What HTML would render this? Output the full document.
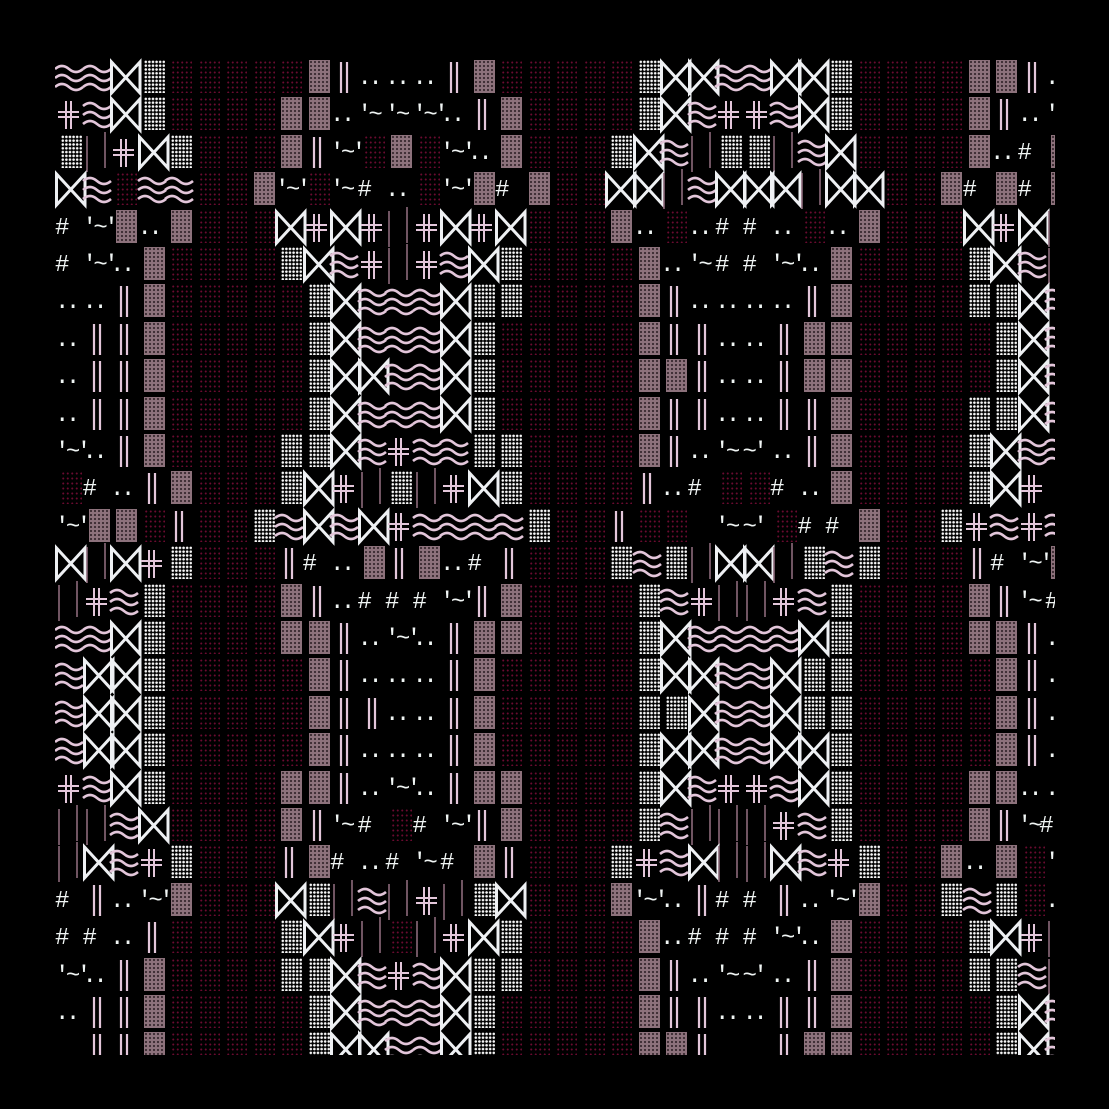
<!DOCTYPE html>
<html><head><meta charset="utf-8">
<style>
html,body{margin:0;padding:0;background:#000;width:1109px;height:1109px;overflow:hidden}
#clip{position:absolute;left:55px;top:55px;width:1000px;height:1000px;overflow:hidden}
.c{position:absolute;width:27.5px;height:37.4px}
.blk{position:absolute;left:6px;top:1px;width:21px;height:33px}
.rr{background-image:radial-gradient(circle,#6a0b30 0.8px,transparent 1.2px);background-size:4.5px 5px}
.pp{background:#8d727c;background-image:radial-gradient(circle,#3a2a30 0.9px,transparent 1.3px);background-size:4px 4px}
.ww{background-image:radial-gradient(circle,#f8f8f8 1.1px,transparent 1.5px);background-size:3.6px 3.8px}
.t{position:absolute;left:0;top:5px;font-family:"Liberation Mono",monospace;font-size:24px;line-height:30px;color:#f0f5f4;white-space:pre;letter-spacing:-3.5px}
svg{position:absolute;left:0;top:0;overflow:visible}
</style></head><body>
<div id="clip"></div>
<script>
var rows=[
"ZZ ZZ BB WW rr rr rr rr rr PP VV .. .. .. VV PP rr rr rr rr rr WW BB BB ZZ ZZ BB BB WW rr rr rr rr PP PP VV .",
"HH ZZ BB WW rr rr rr rr PP PP .. '~ '~ '~' .. VV PP rr rr rr rr WW BB ZZ HH HH ZZ BB WW rr rr rr rr PP VV .. '",
"WW II HH BB WW rr rr rr PP VV '~' rr PP rr '~' .. PP rr rr rr WW BB ZZ II WW WW II ZZ BB rr rr rr rr PP .. # PP",
"BB ZZ rr ZZ ZZ rr rr PP '~' rr '~ # .. rr '~' PP # PP rr rr BB BB II ZZ BB BB BB II BB BB rr rr PP # PP # PP",
"# '~' PP .. PP rr rr rr BB HH BB HH II HH BB HH BB rr rr rr PP .. rr .. # # .. rr .. PP rr rr rr BB HH BB II",
"# '~' .. PP rr rr rr rr WW BB ZZ HH II HH ZZ BB WW rr rr rr rr PP .. '~ # # '~' .. PP rr rr rr rr WW BB ZZ II",
".. .. VV PP rr rr rr rr rr WW BB ZZ ZZ ZZ BB WW WW rr rr rr rr PP VV .. .. .. .. VV PP rr rr rr rr WW WW BB ZZ",
".. VV VV PP rr rr rr rr rr WW BB ZZ ZZ ZZ BB WW rr rr rr rr rr PP VV VV .. .. VV PP PP rr rr rr rr rr WW BB ZZ",
".. VV VV PP rr rr rr rr rr WW BB BB ZZ ZZ BB WW rr rr rr rr rr PP PP VV .. .. VV PP PP rr rr rr rr rr WW BB ZZ",
".. VV VV PP rr rr rr rr rr WW BB ZZ ZZ ZZ BB WW rr rr rr rr rr PP VV VV .. .. VV VV PP rr rr rr rr WW WW BB ZZ",
"'~' .. VV PP rr rr rr rr WW WW BB ZZ HH ZZ ZZ WW WW rr rr rr rr PP VV .. '~ ~' .. VV PP rr rr rr rr WW BB ZZ ZZ",
"rr # .. VV PP rr rr rr WW BB HH II WW II HH BB WW rr rr rr rr VV .. # rr rr # .. PP rr rr rr rr WW BB HH __",
"'~' PP PP rr VV rr rr WW ZZ BB ZZ BB HH ZZ ZZ ZZ ZZ WW rr rr VV rr rr __ '~ ~' rr # # PP rr rr WW HH ZZ HH ZZ",
"BB II BB HH WW rr rr rr VV # .. PP VV PP .. # VV rr rr rr WW ZZ WW II BB BB II WW ZZ WW rr rr rr VV # '~' PP",
"II HH ZZ WW rr rr rr rr PP VV .. # # # '~' VV PP rr rr rr rr WW ZZ HH II II HH ZZ WW rr rr rr rr PP VV '~ #",
"ZZ ZZ BB WW rr rr rr rr PP PP VV .. '~' .. VV PP PP rr rr rr rr WW BB ZZ ZZ ZZ ZZ BB WW rr rr rr rr PP PP VV .",
"ZZ BB BB WW rr rr rr rr rr PP VV .. .. .. VV PP rr rr rr rr rr WW BB BB ZZ ZZ BB WW WW rr rr rr rr rr PP VV .",
"ZZ BB BB WW rr rr rr rr rr PP VV VV .. .. VV PP rr rr rr rr rr WW WW BB ZZ ZZ BB WW WW rr rr rr rr rr PP VV .",
"ZZ BB BB WW rr rr rr rr rr PP VV .. .. .. VV PP rr rr rr rr rr WW BB BB ZZ ZZ BB BB WW rr rr rr rr rr PP VV .",
"HH ZZ BB WW rr rr rr rr PP PP VV .. '~' .. VV PP PP rr rr rr rr WW BB ZZ HH HH ZZ BB WW rr rr rr rr PP PP .. .",
"II II ZZ BB rr rr rr rr PP VV '~ # rr # '~' VV PP rr rr rr rr WW ZZ II II II HH ZZ WW rr rr rr rr PP VV '~# __",
"II BB ZZ HH WW rr rr rr VV PP # .. # '~ # PP VV rr rr rr WW HH ZZ BB II II BB ZZ HH WW rr rr PP .. PP rr '",
"# VV .. '~' PP rr rr rr BB WW II ZZ II HH II WW BB rr rr rr PP '~' .. VV # # VV .. '~' PP rr rr WW ZZ WW rr .",
"# # .. VV rr rr rr rr WW BB HH II rr II HH BB WW rr rr rr rr PP .. # # # '~' .. PP rr rr rr rr WW BB HH II",
"'~' .. VV PP rr rr rr rr WW WW BB ZZ HH ZZ BB WW WW rr rr rr rr PP VV .. '~ ~' .. VV PP rr rr rr rr WW WW ZZ II",
".. VV VV PP rr rr rr rr rr WW BB ZZ ZZ ZZ BB WW rr rr rr rr rr PP VV VV .. .. VV VV PP rr rr rr rr rr WW BB ZZ",
"__ VV VV PP rr rr rr rr rr WW BB BB ZZ ZZ BB WW rr rr rr rr rr PP PP VV __ __ VV PP PP rr rr rr rr rr WW BB ZZ"
];
var SV='<svg width="28" height="37" viewBox="0 0 28 37">';
var P='#e3c6da',W='#eef0f3';
var shapes={
BB:SV+'<path d="M1.5 3 L1.5 34 L30 3 L30 34 Z" fill="none" stroke="'+W+'" stroke-width="3" stroke-linejoin="miter"/></svg>',
ZZ:SV+'<path d="M0 10 q7 -6 14 0 t14 0 M0 19 q7 -6 14 0 t14 0 M0 28 q7 -6 14 0 t14 0" fill="none" stroke="'+P+'" stroke-width="2.6"/></svg>',
HH:SV+'<path d="M11 5 V33 M16 5 V33 M3 16 H24 M3 21 H24" fill="none" stroke="'+P+'" stroke-width="2"/><path d="M12 17 h3 v3 h-3z" fill="#000"/></svg>',
VV:SV+'<path d="M11 3 V34 M17 3 V34" fill="none" stroke="'+P+'" stroke-width="2.2"/></svg>',
II:SV+'<path d="M4 2 V38 M22 -2 V34" fill="none" stroke="#8c6a7a" stroke-width="1.6"/></svg>'
};
var h='';
for(var r=0;r<rows.length;r++){
 var toks=rows[r].split(' ');
 for(var c=0;c<toks.length;c++){
  var t=toks[c];if(t==='__')continue;
  var x=(27.5*c).toFixed(1),y=(4+37.4*r).toFixed(1);
  var inner;
  if(t==='rr')inner='<div class="blk rr"></div>';
  else if(t==='PP')inner='<div class="blk pp"></div>';
  else if(t==='WW')inner='<div class="blk ww"></div>';
  else if(shapes[t])inner=shapes[t];
  else inner='<span class="t">'+t.replace(/&/g,'&amp;').replace(/</g,'&lt;')+'</span>';
  h+='<div class="c" style="left:'+x+'px;top:'+y+'px">'+inner+'</div>';
 }
}
document.getElementById('clip').innerHTML=h;
</script>
</body></html>
